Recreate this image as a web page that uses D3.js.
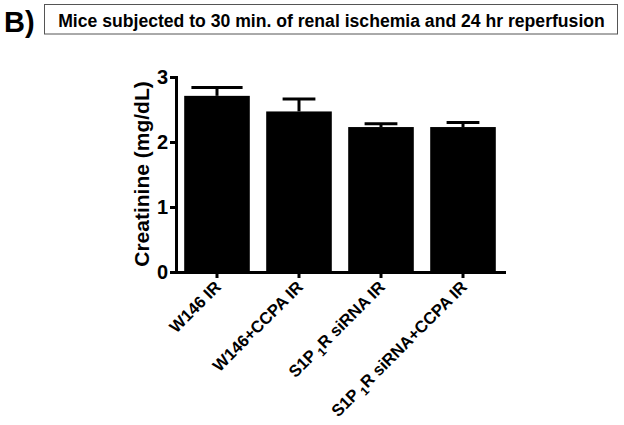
<!DOCTYPE html>
<html>
<head>
<meta charset="utf-8">
<script src="https://cdn.jsdelivr.net/npm/d3@7"></script>
<style>
  body { margin: 0; background: #fff; }
  text { font-family: "Liberation Sans", Arial, sans-serif; font-weight: bold; fill: #000; }
</style>
</head>
<body>
<svg></svg>
<script>
// data
const groups = ["W146 IR", "W146+CCPA IR", "S1P1R siRNA IR", "S1P1R siRNA+CCPA IR"]
const means = [2.71, 2.47, 2.23, 2.23]
const sems = [0.13, 0.19, 0.05, 0.07]
const yTicks = [0, 1, 2, 3]

const width = 624
const height = 425

const svg = d3.select('svg')
  .attr('width', width)
  .attr('height', height)

// panel letter + boxed title
svg.append('text')
  .attr('x', 4)
  .attr('y', 32)
  .style('font-size', '29px')
  .text('B)')

svg.append('rect')
  .attr('x', 44.5).attr('y', 4.5)
  .attr('width', 573).attr('height', 29.5)
  .attr('fill', 'none')
  .attr('stroke', '#555')
  .attr('stroke-width', 1)

svg.append('text')
  .attr('x', 331.5)
  .attr('y', 26.5)
  .attr('text-anchor', 'middle')
  .style('font-size', '17.6px')
  .text('Mice subjected to 30 min. of renal ischemia and 24 hr reperfusion')

const x = d3.scaleBand()
  .domain(groups)
  .range([176, 504])
  .paddingInner(0.2)
  .paddingOuter(0.1)

const y = d3.scaleLinear()
  .domain([0, 3])
  .range([272, 77])

var g = svg.append('g')

// bars
g.selectAll('rect.bar')
  .data(groups)
  .enter().append('rect')
    .attr('class', 'bar')
    .attr('x', d => x(d))
    .attr('y', (d, i) => y(means[i]))
    .attr('width', x.bandwidth())
    .attr('height', (d, i) => y(0) - y(means[i]))
    .attr('fill', '#000')

// error bars (upper half only, like prism)
const capFrac = [0.78, 0.5, 0.5, 0.5]
var err = g.selectAll('g.err')
  .data(groups)
  .enter().append('g')
    .attr('class', 'err')
    .attr('stroke', '#000')
    .attr('stroke-width', 3)

err.append('line')
  .attr('x1', d => x(d) + x.bandwidth() / 2)
  .attr('x2', d => x(d) + x.bandwidth() / 2)
  .attr('y1', (d, i) => y(means[i]))
  .attr('y2', (d, i) => y(means[i] + sems[i]))

err.append('line')
  .attr('x1', (d, i) => x(d) + x.bandwidth() / 2 - capFrac[i] * x.bandwidth() / 2)
  .attr('x2', (d, i) => x(d) + x.bandwidth() / 2 + capFrac[i] * x.bandwidth() / 2)
  .attr('y1', (d, i) => y(means[i] + sems[i]))
  .attr('y2', (d, i) => y(means[i] + sems[i]))

// y axis
var yAxis = svg.append('g')
  .attr('transform', 'translate(176,0)')
  .call(d3.axisLeft(y).tickValues(yTicks).tickFormat(d3.format('d')).tickSize(6).tickSizeOuter(0).tickPadding(2))
yAxis.select('.domain').attr('stroke-width', 3).attr('stroke-linecap', 'square')
yAxis.selectAll('.tick line').attr('stroke-width', 3)
yAxis.selectAll('.tick text').style('font-size', '20px').attr('font-family', null)

// x axis
var xAxis = svg.append('g')
  .attr('transform', 'translate(0,272)')
  .call(d3.axisBottom(x).tickSize(6).tickSizeOuter(0).tickFormat(''))
xAxis.select('.domain').attr('stroke-width', 3).attr('stroke-linecap', 'square')
xAxis.selectAll('.tick line').attr('stroke-width', 3)

// rotated category labels, with subscript 1 in S1P1R
xAxis.selectAll('.tick').each(function(d) {
  var t = d3.select(this).append('text')
    .attr('transform', 'translate(5,16) rotate(-45)')
    .attr('text-anchor', 'end')
    .attr('fill', '#000')
    .style('font-size', '16.6px')
    .attr('font-family', null)
  if (d.startsWith('S1P1R')) {
    t.append('tspan').text('S1P')
    t.append('tspan').attr('dx', 3).attr('dy', 4).style('font-size', '12px').text('1')
    t.append('tspan').attr('dy', -4).text(d.slice(4))
  } else {
    t.text(d)
  }
})

// y axis title
svg.append('text')
  .attr('transform', 'translate(149,174) rotate(-90)')
  .attr('text-anchor', 'middle')
  .style('font-size', '21px')
  .text('Creatinine (mg/dL)')
</script>
</body>
</html>
